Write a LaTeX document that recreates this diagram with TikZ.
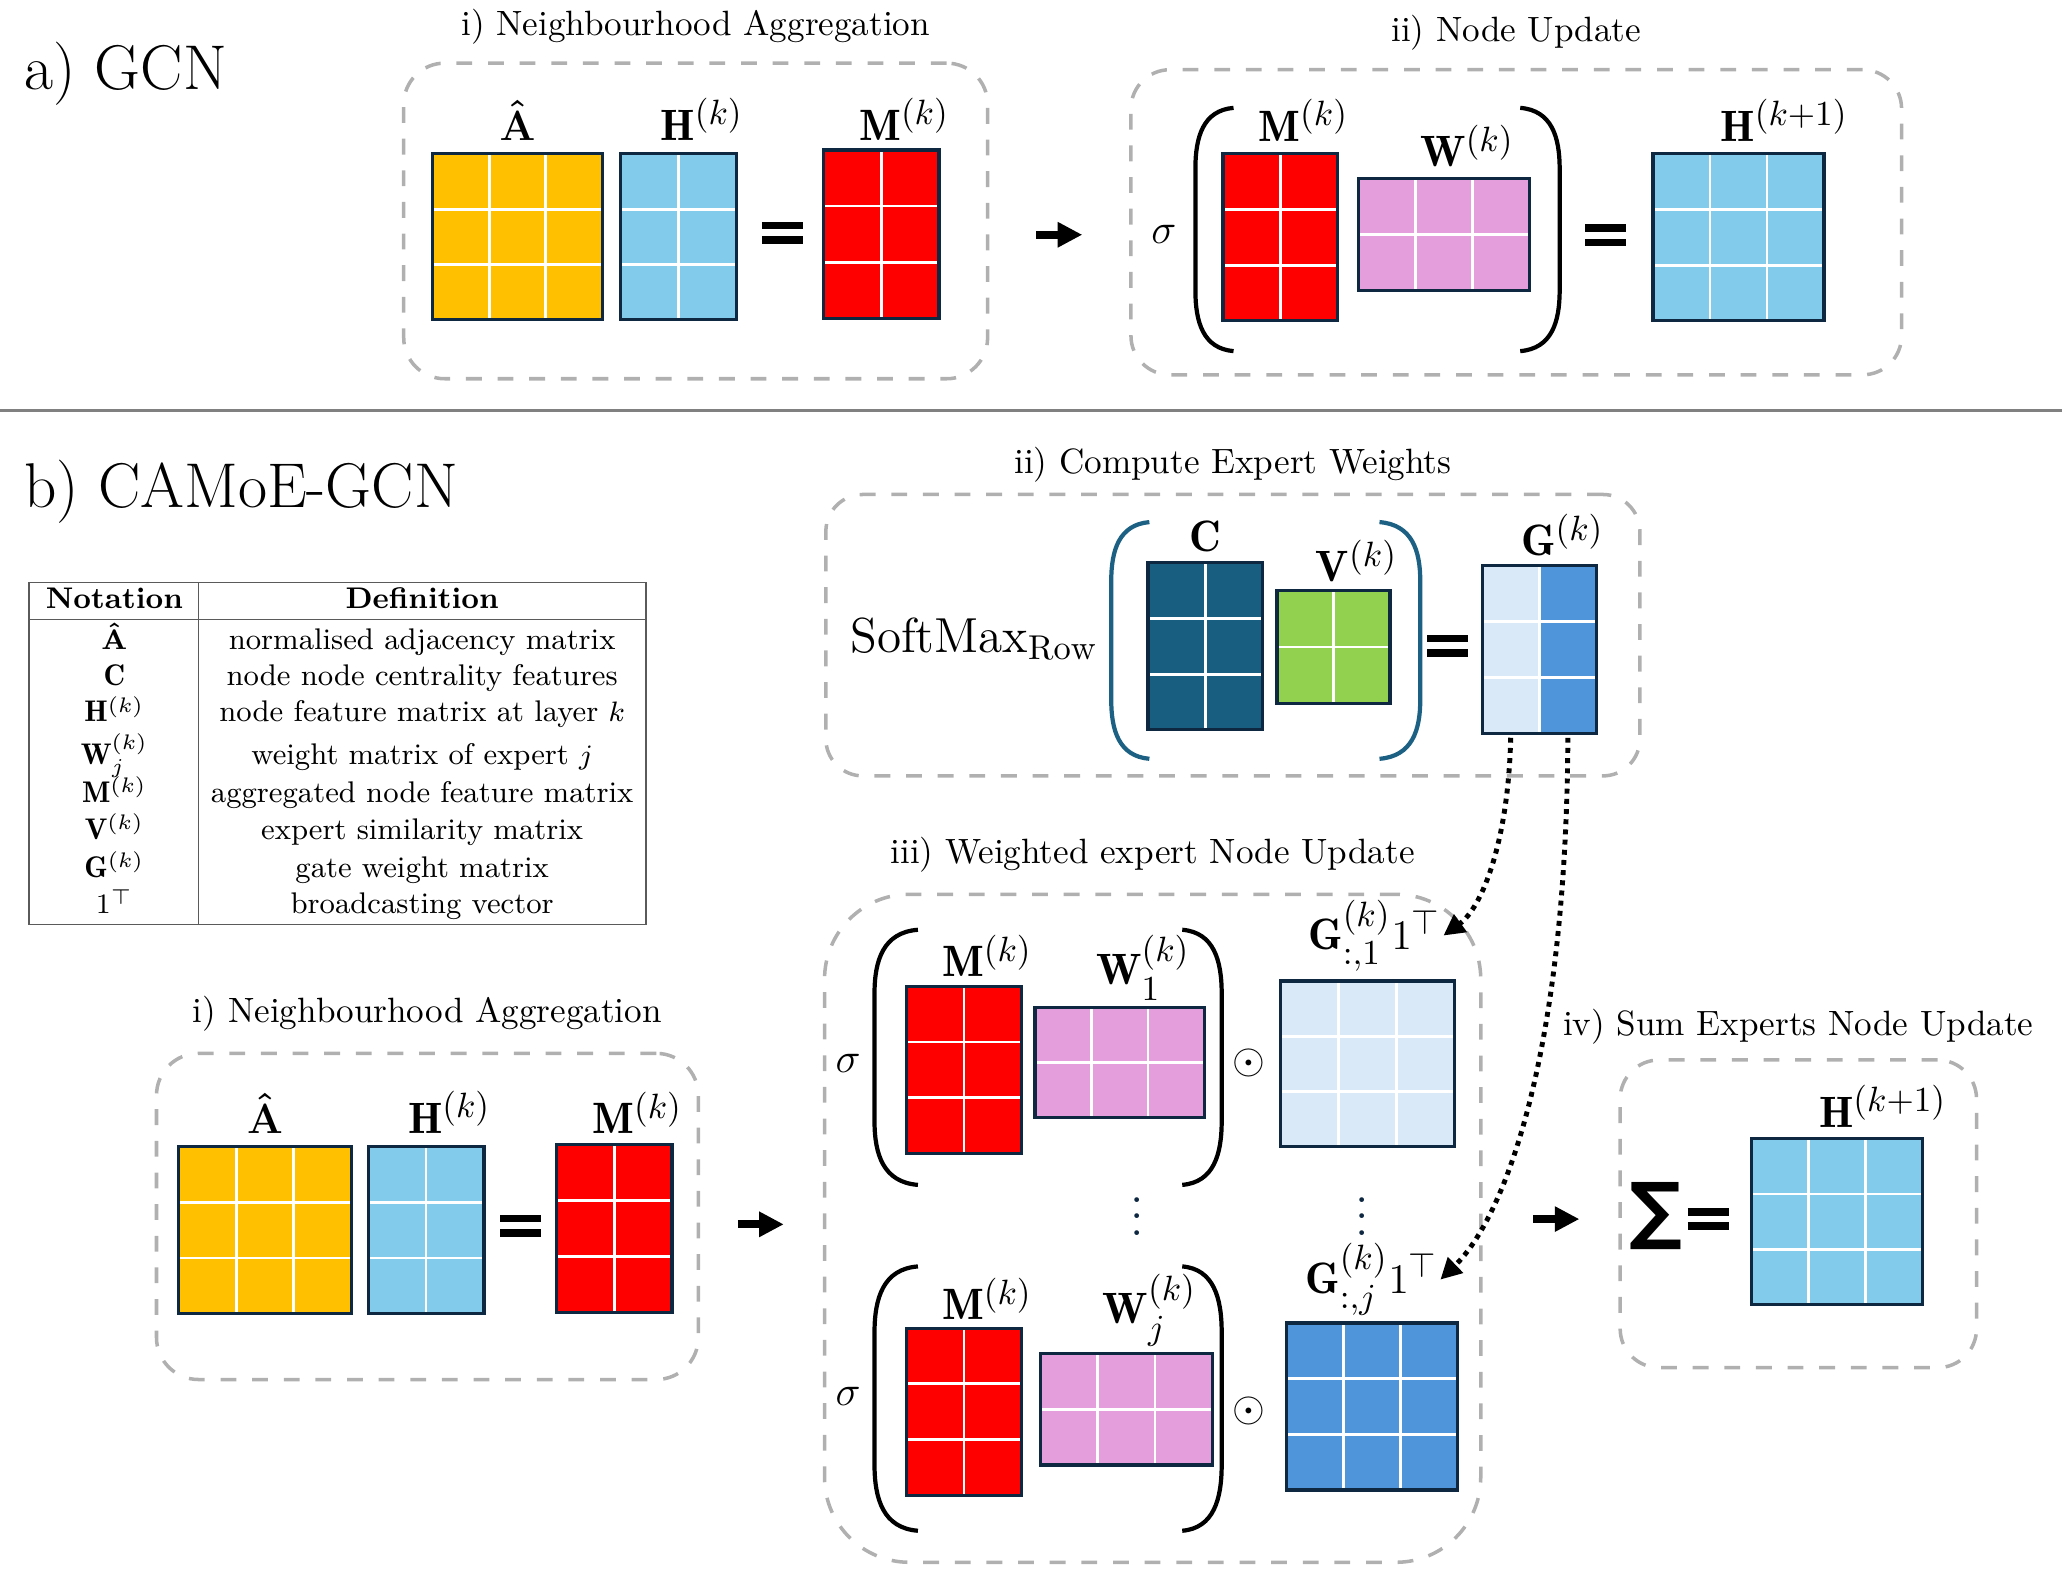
\documentclass[tikz,border=0pt]{standalone}
\usepackage{amsmath,amssymb,mathtools}
\usepackage{fontspec}
\newfontfamily\sumfont{DejaVu Sans}
\DeclareMathSizes{12.5}{12.5}{10}{7.5}
\usepackage{tikz}
\usetikzlibrary{positioning,fit,calc,arrows.meta}
\definecolor{adj yellow}{HTML}{FFC000}
\definecolor{feat blue}{HTML}{83CBEB}
\definecolor{agg red}{HTML}{FF0000}
\definecolor{weight pink}{HTML}{E49EDC}
\definecolor{cent teal}{HTML}{175E81}
\definecolor{paren teal}{HTML}{1C6184}
\definecolor{sim green}{HTML}{92D050}
\definecolor{gate light}{HTML}{DAE9F7}
\definecolor{gate blue}{HTML}{4E95D9}
\definecolor{mat navy}{HTML}{0E2841}
\definecolor{stage gray}{HTML}{B0B0B0}
\definecolor{rule gray}{HTML}{808080}

\tikzset{
  stage/.style={draw=stage gray, line width=1pt, dash pattern=on 4.5pt off 4.5pt, inner sep=0pt},
  matcell/.style={inner sep=0pt, outer sep=0pt},
  gridline/.style={white, line width=0.8pt},
  matframe/.style={draw=mat navy, line width=0.9pt},
  lbl/.style={inner sep=0pt, font=\fontsize{12.5}{15}\selectfont},
  steplbl/.style={inner sep=0pt, font=\fontsize{10}{12}\selectfont},
  title/.style={inner sep=0pt, anchor=base west, font=\fontsize{18}{22}\selectfont},
  tabtext/.style={inner sep=0pt, anchor=base, font=\fontsize{8.5}{10}\selectfont},
  paren/.style={line width=1.2pt},
  blockarrow/.style={line width=2.2pt, -{Triangle[length=7pt,width=6.8pt]}},
  gatearrow/.style={line width=1.4pt, dash pattern=on 1.4pt off 1.5pt, -{Triangle[length=6pt,width=6pt]}},
}

% matrix: name, colour, x1, y1, x2, y2, columns, rows
\newcommand{\gridmat}[8]{%
  \node[matcell, fill=#2, fit={(#3,#4) (#5,#6)}] (#1) {};
  \matgrid{#1}{#7}{#8}}
\newcommand{\matgrid}[3]{%
  \foreach \ci in {1,...,#2}{\ifnum\ci<#2
    \draw[gridline] ($(#1.north west)!\ci/#2!(#1.north east)$) -- ($(#1.south west)!\ci/#2!(#1.south east)$);\fi}
  \foreach \ri in {1,...,#3}{\ifnum\ri<#3
    \draw[gridline] ($(#1.north west)!\ri/#3!(#1.south west)$) -- ($(#1.north east)!\ri/#3!(#1.south east)$);\fi}
  \draw[matframe] (#1.south west) rectangle (#1.north east);}
% bracket: end x, outer x, top y, bottom y
\newcommand{\bigbracket}[5][]{%
  \draw[paren,#1] (#2,#4) .. controls ({#3+0.2*(#2-#3)},{#4+2}) and (#3,{#4+0.12*(#5-#4)}) .. (#3,{#4+0.25*(#5-#4)})
    -- (#3,{#5-0.25*(#5-#4)}) .. controls (#3,{#5-0.12*(#5-#4)}) and ({#3+0.2*(#2-#3)},{#5-2}) .. (#2,#5);}
\newcommand{\eqbars}{\vbox{\hrule width 0.41cm height 0.076cm \vskip 0.067cm \hrule width 0.41cm height 0.076cm}}
\newcommand{\dotcol}{\vbox{\baselineskip=4.7pt \lineskiplimit=0pt \hbox{.}\hbox{.}\hbox{.}}}

\begin{document}
\begin{tikzpicture}[x=0.013151cm, y=-0.013151cm]
\useasboundingbox (0,0) rectangle (1568,1200);

% a) GCN
\node[title] (titleA) at (18,68) {a) GCN};

% i) neighbourhood aggregation
\node[stage, rounded corners=0.41cm, fit={(307,48) (751,288)}] (aggA) {};
\node[steplbl, above=0.255cm of aggA.north, anchor=base] (aggAlbl) {i) Neighbourhood Aggregation};
\gridmat{AhatA}{adj yellow}{329}{117}{458}{243}{3}{3}
\gridmat{HkA}{feat blue}{472}{117}{560}{243}{2}{3}
\node[inner sep=0pt] (eqA) at (595,177) {\eqbars};
\gridmat{MkA}{agg red}{626}{114}{714}{242}{2}{3}
\node[lbl, above=0.13cm of AhatA.north] (AhatAl) {$\boldsymbol{\hat{\mathbf{A}}}$};
\node[lbl, above=0.13cm of HkA.north] (HkAl) {$\mathbf{H}^{\mathrlap{(k)}}$};
\node[lbl, above=0.09cm of MkA.north] (MkAl) {$\mathbf{M}^{\mathrlap{(k)}}$};

\coordinate (arrAs) at (788,178.5);
\coordinate (arrAe) at (823,178.5);
\draw[blockarrow] (arrAs) -- (arrAe);

% ii) node update
\node[stage, rounded corners=0.39cm, fit={(860,53) (1446,285)}] (updA) {};
\node[steplbl, above=0.263cm of updA.north, anchor=base] (updAlbl) {ii) Node Update};
\node[lbl] (sigA) at (885,178) {$\sigma$};
\bigbracket{938}{909}{82}{267}
\bigbracket{1156}{1186}{82}{267}
\gridmat{MkB}{agg red}{930}{117}{1017}{244}{2}{3}
\gridmat{WkB}{weight pink}{1033}{136}{1163}{221}{3}{2}
\node[inner sep=0pt] (eqB) at (1221,179) {\eqbars};
\gridmat{HnextA}{feat blue}{1257}{117}{1387}{244}{3}{3}
\node[lbl, above=0.12cm of MkB.north] (MkBl) {$\mathbf{M}^{\mathrlap{(k)}}$};
\node[lbl, above=0.11cm of WkB.north] (WkBl) {$\mathbf{W}^{\mathrlap{(k)}}$};
\node[lbl, above=0.12cm of HnextA.north] (HnextAl) {$\mathbf{H}^{\mathrlap{(k+1)}}$};

% separator
\draw[rule gray, line width=0.9pt] (0,312) -- (1568,312);

% b) CAMoE-GCN
\node[title] (titleB) at (18,386) {b) CAMoE-GCN};

% notation table
\draw[rule gray!70!black, line width=0.5pt] (22,443) rectangle (491,703)
  (22,471) -- (491,471) (151,443) -- (151,703);
\node[tabtext] (notHead) at (87,463) {\bfseries Notation};
\node[tabtext] (defHead) at (321,463) {\bfseries Definition};
\foreach \sym/\defn/\yb [count=\i] in {
  {$\boldsymbol{\hat{\mathbf{A}}}$}/{normalised adjacency matrix}/494,
  {$\mathbf{C}$}/{node node centrality features}/521,
  {$\mathbf{H}^{(k)}$}/{node feature matrix at layer $k$}/549,
  {$\mathbf{W}_j^{(k)}$}/{weight matrix of expert $j$}/581,
  {$\mathbf{M}^{(k)}$}/{aggregated node feature matrix}/610,
  {$\mathbf{V}^{(k)}$}/{expert similarity matrix}/638,
  {$\mathbf{G}^{(k)}$}/{gate weight matrix}/667,
  {$1^{\top}$}/{broadcasting vector}/695}{
  \node[tabtext] (sym\i) at (87,\yb) {\sym};
  \node[tabtext] (def\i) at (321,\yb) {\defn};
}

% ii) compute expert weights
\node[stage, rounded corners=0.37cm, fit={(628,376) (1247,590)}] (gateBox) {};
\node[steplbl, above=0.197cm of gateBox.north, anchor=base] (gateBoxlbl) {ii) Compute Expert Weights};
\node[inner sep=0pt, anchor=base west, font=\fontsize{14}{17}\selectfont] (softmax) at (646,496) {$\mathrm{SoftMax}_{\mathrm{Row}}$};
\bigbracket[paren teal]{874}{845}{397}{577}
\bigbracket[paren teal]{1049}{1080}{397}{577}
\gridmat{Cmat}{cent teal}{873}{428}{960}{555}{2}{3}
\gridmat{Vk}{sim green}{971}{449}{1057}{535}{2}{2}
\node[inner sep=0pt] (eqC) at (1101,491) {\eqbars};
\node[matcell, fill=gate light, fit={(1127,430) (1214,558)}] (Gk) {};
\fill[gate blue] (Gk.north) rectangle (Gk.south east);
\matgrid{Gk}{2}{3}
\node[lbl, above=0.105cm of Cmat.north] (Cmatl) {$\mathbf{C}$};
\node[lbl, above=0.08cm of Vk.north] (Vkl) {$\mathbf{V}^{\mathrlap{(k)}}$};
\node[lbl, above=0.09cm of Gk.north] (Gkl) {$\mathbf{G}^{\mathrlap{(k)}}$};

% i) neighbourhood aggregation
\node[stage, rounded corners=0.42cm, fit={(119,801) (531,1049)}] (aggB) {};
\node[steplbl, above=0.29cm of aggB.north, anchor=base] (aggBlbl) {i) Neighbourhood Aggregation};
\gridmat{AhatB}{adj yellow}{136}{872}{267}{999}{3}{3}
\gridmat{HkB}{feat blue}{280}{872}{368}{999}{2}{3}
\node[inner sep=0pt] (eqD) at (396,932) {\eqbars};
\gridmat{MkC}{agg red}{423}{870}{511}{998}{2}{3}
\node[lbl, above=0.13cm of AhatB.north] (AhatBl) {$\boldsymbol{\hat{\mathbf{A}}}$};
\node[lbl, above=0.13cm of HkB.north] (HkBl) {$\mathbf{H}^{\mathrlap{(k)}}$};
\node[lbl, above=0.1cm of MkC.north] (MkCl) {$\mathbf{M}^{\mathrlap{(k)}}$};

\coordinate (arrBs) at (561,931);
\coordinate (arrBe) at (596,931);
\draw[blockarrow] (arrBs) -- (arrBe);

% iii) weighted expert node update
\node[stage, rounded corners=0.85cm, fit={(627,680) (1126,1188)}] (expertBox) {};
\node[steplbl, above=0.29cm of expertBox.north, anchor=base] (expertBoxlbl) {iii) Weighted expert Node Update};
% expert 1
\node[lbl] (sigOne) at (645,809) {$\sigma$};
\bigbracket{698}{665}{707}{901}
\bigbracket{899}{929}{707}{901}
\gridmat{MkOne}{agg red}{689}{750}{777}{877}{2}{3}
\gridmat{WkOne}{weight pink}{787}{766}{916}{850}{3}{2}
\node[lbl] (odotOne) at (950,808) {$\odot$};
\gridmat{GkOne}{gate light}{974}{746}{1106}{872}{3}{3}
\node[lbl, above=0.09cm of MkOne.north] (MkOnel) {$\mathbf{M}^{\mathrlap{(k)}}$};
\node[lbl, above=0.066cm of WkOne.north] (WkOnel) {$\mathbf{W}_{\mathrlap{1}}^{\mathrlap{(k)}}$};
\node[lbl, above=0.09cm of GkOne.north, xshift=0.07cm] (GkOnel) {$\mathbf{G}^{(k)}_{:,1}1^{\top}$};
% dots
\node[inner sep=0pt, text=mat navy, font=\fontsize{14}{16}\selectfont] (dotsW) at (864.6,925) {\dotcol};
\node[inner sep=0pt, text=mat navy, font=\fontsize{14}{16}\selectfont] (dotsG) at (1036,925) {\dotcol};
% expert j
\node[lbl] (sigJ) at (645,1062) {$\sigma$};
\bigbracket{698}{665}{963}{1164}
\bigbracket{899}{929}{963}{1164}
\gridmat{MkJ}{agg red}{689}{1010}{777}{1137}{2}{3}
\gridmat{WkJ}{weight pink}{791}{1029}{922}{1114}{3}{2}
\node[lbl] (odotJ) at (950,1073) {$\odot$};
\gridmat{GkJ}{gate blue}{978}{1006}{1108}{1133}{3}{3}
\node[lbl, above=0.08cm of MkJ.north] (MkJl) {$\mathbf{M}^{\mathrlap{(k)}}$};
\node[lbl, above=0.066cm of WkJ.north] (WkJl) {$\mathbf{W}_{\mathrlap{j}}^{\mathrlap{(k)}}$};
\node[lbl, above=0.066cm of GkJ.north] (GkJl) {$\mathbf{G}^{(k)}_{:,j}1^{\top}$};

% gate columns to experts
\coordinate (gLeft) at ($(Gk.south west)!0.25!(Gk.south east)+(0,3)$);
\coordinate (gRight) at ($(Gk.south west)!0.75!(Gk.south east)+(0,3)$);
\draw[gatearrow] (gLeft) .. controls (1147,640) and (1127,690) .. ([xshift=0.5pt]GkOnel.east);
\draw[gatearrow] (gRight) .. controls (1191,800) and (1145,925) .. ([xshift=0.5pt]GkJl.east);

\coordinate (arrCs) at (1166,927);
\coordinate (arrCe) at (1201,927);
\draw[blockarrow] (arrCs) -- (arrCe);

% iv) sum experts node update
\node[stage, rounded corners=0.39cm, fit={(1232,806) (1503,1040)}] (sumBox) {};
\node[steplbl, above=0.224cm of sumBox.north, anchor=base] (sumBoxlbl) {iv) Sum Experts Node Update};
\node[inner sep=0pt, font=\sumfont\bfseries\fontsize{21}{25}\selectfont] (sumSign) at (1259,925) {∑};
\node[inner sep=0pt] (eqE) at (1299,927) {\eqbars};
\gridmat{HnextB}{feat blue}{1332}{866}{1462}{992}{3}{3}
\node[lbl, above=0.11cm of HnextB.north] (HnextBl) {$\mathbf{H}^{\mathrlap{(k+1)}}$};
\end{tikzpicture}
\end{document}
